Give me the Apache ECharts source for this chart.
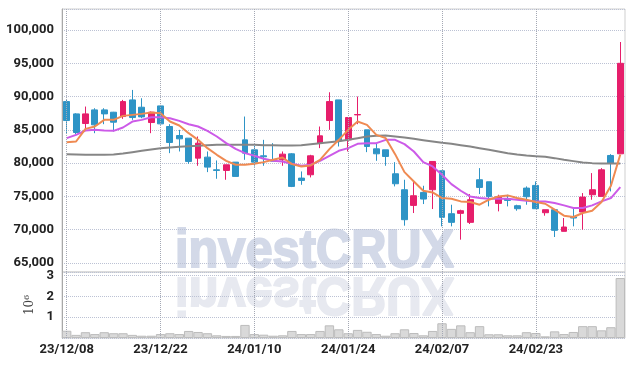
<!DOCTYPE html>
<html>
<head>
<meta charset="utf-8">
<script src="https://cdn.jsdelivr.net/npm/echarts@6/dist/echarts.min.js"></script>
<style>
  html, body { margin: 0; padding: 0; background: #fff; }
  #main { width: 634px; height: 366px; }
</style>
</head>
<body>
<div id="main"></div>
<script>
const dates = ['23/12/08','23/12/11','23/12/12','23/12/13','23/12/14','23/12/15','23/12/18','23/12/19','23/12/20','23/12/21',
  '23/12/22','23/12/26','23/12/27','23/12/28','24/01/02','24/01/03','24/01/04','24/01/05','24/01/08','24/01/09',
  '24/01/10','24/01/11','24/01/12','24/01/15','24/01/16','24/01/17','24/01/18','24/01/19','24/01/22','24/01/23',
  '24/01/24','24/01/25','24/01/26','24/01/29','24/01/30','24/01/31','24/02/01','24/02/02','24/02/05','24/02/06',
  '24/02/07','24/02/08','24/02/13','24/02/14','24/02/15','24/02/16','24/02/19','24/02/20','24/02/21','24/02/22',
  '24/02/23','24/02/26','24/02/27','24/02/28','24/02/29','24/03/04','24/03/05','24/03/06','24/03/07','24/03/08'];
const tickLabels = ['23/12/08','23/12/22','24/01/10','24/01/24','24/02/07','24/02/23'];

const open  = [89250,87400,85950,88000,88000,87650,87000,89500,88400,86100,88600,85500,84150,83750,80750,80900,79000,78900,80150,83500,
  82000,81100,80400,80500,81400,77750,78250,83000,86400,89500,83500,87250,85000,82150,82000,78400,76000,73650,75600,76000,
  78850,72400,72450,71100,77500,77200,73950,74650,73600,76250,76650,72550,73000,69750,71900,72650,75250,75000,81150,81400];
const close = [86400,84600,87400,85750,87400,86150,89250,86850,86950,87650,85900,83100,83650,80250,83000,79400,78900,79750,78000,81500,
  80150,80950,80300,81350,76500,77400,81100,84100,89250,83350,86850,87300,82500,81400,81000,76900,71500,75100,74600,80250,
  71850,71100,72850,74500,76350,75000,74950,74400,73150,74950,73150,73000,69900,70400,71750,74900,76000,79000,80000,95000];
const low   = [84500,84300,85250,84500,85850,84750,86650,86500,86750,84500,85800,81500,81750,79900,79600,78650,77650,77500,78000,80500,
  79500,79600,80300,79600,76400,76750,77850,82250,85000,82500,81750,85850,81650,80350,79600,76500,70600,72500,73850,73100,
  70500,70500,68500,70850,75350,73500,72750,73500,72850,73750,73150,72100,68900,69750,70500,70000,74500,75000,75750,81400];
const high  = [89600,87500,88500,88250,88250,87700,89500,91000,89750,87750,88750,85850,85000,83750,84000,81750,80400,79750,80150,87000,
  82750,83500,83000,81750,81500,78750,81250,85500,90650,89500,86850,90000,85000,83000,82000,80150,77500,77350,76600,80250,
  78850,73750,73000,75350,79250,77200,75250,75250,73750,76500,77250,73000,73000,71750,73150,75500,78500,79250,81350,98200];
const volume = [350000,150000,280000,190000,280000,230000,230000,150000,110000,110000,190000,230000,190000,340000,290000,230000,130000,100000,100000,630000,
  190000,160000,110000,130000,340000,190000,190000,340000,610000,420000,230000,390000,300000,190000,110000,230000,420000,240000,130000,340000,
  710000,440000,610000,280000,570000,180000,180000,130000,130000,280000,240000,80000,320000,190000,290000,570000,570000,370000,520000,2890000];

// moving averages
const maShort = [83150,83250,85150,85500,86500,86500,87100,87250,87400,87600,87500,86250,85650,84500,83500,82250,81250,80350,79750,79750,
  79900,80150,80500,80850,79850,79500,79650,80500,82100,83500,85000,86250,85750,84250,83750,81350,78650,77250,75850,75600,
  74750,74650,74250,74150,73750,74500,75000,75150,74750,74500,74150,73900,73000,72100,71900,72500,72850,74150,76600,81300];
const maMid = [83750,84250,84900,85000,84900,84850,85350,86250,86500,86900,86900,86750,86350,85850,85500,84850,84000,83000,82150,81500,
  81100,80650,80350,80250,79900,79600,79750,80350,81100,81850,82250,82900,83000,83000,83500,83500,82850,81750,80150,79500,
  78250,76850,75850,75000,74750,74650,74650,74650,74500,74350,74250,74250,74000,73650,73250,73250,73650,74250,74750,76400];
const maLong = [81350,81300,81250,81250,81250,81300,81450,81650,81850,82050,82250,82350,82450,82550,82600,82700,82750,82750,82750,82750,
  82750,82700,82700,82650,82650,82700,82850,83000,83150,83300,83500,83750,84000,84100,84150,84000,83850,83650,83450,83250,
  83050,82900,82700,82500,82250,82000,81750,81500,81300,81150,81050,80950,80750,80500,80300,80100,80000,79950,79950,79950];

const candles = dates.map((d, i) => [open[i], close[i], low[i], high[i]]);

const labelFont = 'Roboto, "Liberation Sans", sans-serif';
const gridDot = { type: 'dotted', color: '#bcc2d4', width: 1 };
const vLines = {
  silent: true,
  symbol: ['none', 'none'],
  label: { show: false },
  lineStyle: { type: 'dotted', color: '#a4a8b4', width: 1 },
  data: tickLabels.map(d => ({ xAxis: dates.indexOf(d) }))
};

function commas(v) {
  return String(Math.round(v)).replace(/\B(?=(\d{3})+(?!\d))/g, ',');
}

const chart = echarts.init(document.getElementById('main'));
chart.setOption({
  animation: false,
  backgroundColor: '#fff',
  grid: [
    { left: 62, right: 9, top: 9, height: 263, show: true, borderColor: '#cfcfcf', borderWidth: 1 },
    { left: 62, right: 9, top: 272, height: 66, show: true, borderColor: '#cfcfcf', borderWidth: 1 }
  ],
  graphic: [
    {
      type: 'text', x: 175, y: 226, scaleX: 0.92, z: -10, silent: true,
      style: { text: 'investCRUX', font: 'bold 53px "Liberation Sans"', fill: '#d3d9e8',
        stroke: '#d3d9e8', lineWidth: 2, verticalAlign: 'top' }
    },
    {
      type: 'text', x: 175, y: 319, scaleX: 0.92, scaleY: -1, z: -10, silent: true,
      style: { text: 'investCRUX', font: 'bold 53px "Liberation Sans"', fill: '#e7e9f0',
        stroke: '#e7e9f0', lineWidth: 2, verticalAlign: 'top' }
    }
  ],
  xAxis: [
    {
      type: 'category', gridIndex: 0, data: dates, boundaryGap: true,
      axisLine: { show: false }, axisTick: { show: false }, axisLabel: { show: false }, splitLine: { show: false }
    },
    {
      type: 'category', gridIndex: 1, data: dates, boundaryGap: true,
      axisLine: { show: false }, axisTick: { show: false }, splitLine: { show: false },
      axisLabel: {
        interval: (idx, val) => tickLabels.indexOf(val) >= 0,
        fontFamily: labelFont, fontWeight: 'bold', fontSize: 13, color: '#222', margin: 5
      }
    }
  ],
  yAxis: [
    {
      type: 'value', gridIndex: 0, min: 63640, max: 103160, splitNumber: 8,
      axisLine: { show: true, lineStyle: { color: '#a8a8a8' } }, axisTick: { show: false },
      splitLine: { show: true, lineStyle: gridDot },
      axisLabel: {
        showMinLabel: false, showMaxLabel: false, formatter: commas,
        fontFamily: labelFont, fontWeight: 'bold', fontSize: 13, color: '#222', margin: 8
      }
    },
    {
      type: 'value', gridIndex: 1, min: 0, max: 3180000, splitNumber: 3,
      name: '10⁶', nameLocation: 'middle', nameRotate: 90, nameGap: 17,
      nameTextStyle: { fontFamily: 'DejaVu Serif', fontSize: 12, color: '#444' },
      axisLine: { show: true, lineStyle: { color: '#a8a8a8' } }, axisTick: { show: false },
      splitLine: { show: true, lineStyle: gridDot },
      axisLabel: {
        showMinLabel: false, showMaxLabel: false, formatter: v => v / 1000000,
        fontFamily: labelFont, fontWeight: 'bold', fontSize: 13, color: '#222', margin: 8
      }
    }
  ],
  series: [
    {
      name: 'price', type: 'candlestick', xAxisIndex: 0, yAxisIndex: 0, data: candles,
      barWidth: '68%',
      itemStyle: { color: '#e61e6b', color0: '#2e94c6', borderColor: '#e61e6b', borderColor0: '#2e94c6', borderWidth: 1 },
      markLine: vLines
    },
    {
      name: 'maLong', type: 'line', xAxisIndex: 0, yAxisIndex: 0, data: maLong,
      symbol: 'none', lineStyle: { color: '#868686', width: 2 }
    },
    {
      name: 'maMid', type: 'line', xAxisIndex: 0, yAxisIndex: 0, data: maMid,
      symbol: 'none', lineStyle: { color: '#cc5ae8', width: 2 }
    },
    {
      name: 'maShort', type: 'line', xAxisIndex: 0, yAxisIndex: 0, data: maShort,
      symbol: 'none', lineStyle: { color: '#ef8a52', width: 2 }
    },
    {
      name: 'volume', type: 'bar', xAxisIndex: 1, yAxisIndex: 1, data: volume,
      barWidth: '100%', barCategoryGap: 0,
      itemStyle: { color: '#d9d9d9', borderColor: '#bcbcbc', borderWidth: 1 },
      markLine: vLines
    }
  ]
});
</script>
</body>
</html>
